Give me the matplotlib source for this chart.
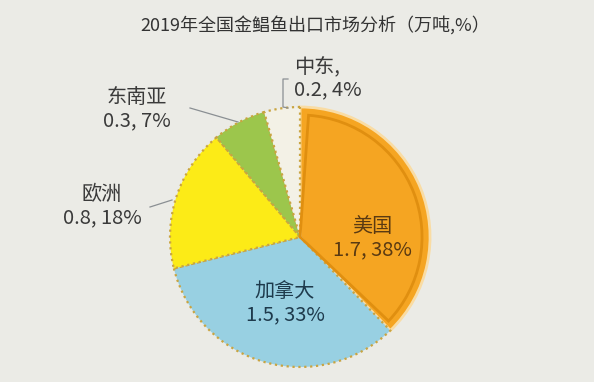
import matplotlib
matplotlib.use('Agg')
import matplotlib.pyplot as plt
from matplotlib.patches import Wedge

plt.rcParams['font.family'] = ['Noto Sans CJK SC', 'DejaVu Sans']

# 数据
markets = ['美国', '加拿大', '欧洲', '东南亚', '中东']
volumes = [1.7, 1.5, 0.8, 0.3, 0.2]
shares = [38, 33, 18, 7, 4]
colors = ['#F5A522', '#98D0E2', '#FCEB17', '#9CC64C', '#F3F1E6']
title = '2019年全国金鲳鱼出口市场分析（万吨,%）'

bg = '#EBEBE6'
fig = plt.figure(figsize=(5.94, 3.82), dpi=100, facecolor=bg)
ax = fig.add_axes([0, 0, 1, 1])
ax.set_facecolor(bg)
ax.axis('off')

cx, cy, R = 300, 145, 130
wedges, _ = ax.pie(volumes, colors=colors, startangle=90, counterclock=False,
                   center=(cx, cy), radius=R, explode=[0.045, 0, 0, 0, 0],
                   wedgeprops=dict(edgecolor='#C9A441', linewidth=1.6, linestyle=':'))
ax.set_xlim(0, 594)
ax.set_ylim(0, 382)
ax.set_aspect('equal')

# 美国扇区边框
us = wedges[0]
us.set_edgecolor('#F9DCA4')
us.set_linestyle('-')
us.set_linewidth(2)
ax.add_patch(Wedge(us.center, us.r - 8, us.theta1 + 2.5, us.theta2 - 4,
                   facecolor='none', edgecolor='#E08F10', lw=2))

ax.text(315, 382 - 25, title, ha='center', va='center', fontsize=13, color='#333333')

# 标签
def label(x, y, txt, color, ha='center'):
    ax.text(x, 382 - y, txt, color=color, ha=ha, va='center',
            fontsize=14.5, linespacing=1.1)

label(372, 238, markets[0] + '\n%.1f, %d%%' % (volumes[0], shares[0]), '#5A3A12')
label(285, 303, markets[1] + '\n%.1f, %d%%' % (volumes[1], shares[1]), '#1E3A4C')
label(102, 206, markets[2] + '\n%.1f, %d%%' % (volumes[2], shares[2]), '#3A3A3A')
label(137, 109, markets[3] + '\n%.1f, %d%%' % (volumes[3], shares[3]), '#3A3A3A')
label(294, 78, markets[4] + ',\n%.1f, %d%%' % (volumes[4], shares[4]), '#3A3A3A', ha='left')

# 引线
ax.plot([190, 238], [382 - 108, 382 - 122], color='#8A8F93', lw=0.9)
ax.plot([150, 172], [382 - 207, 382 - 200], color='#8A8F93', lw=0.9)
ax.plot([288, 283, 283, 288], [382 - 79, 382 - 79, 382 - 107, 382 - 108],
        color='#8A8F93', lw=0.9)

fig.savefig('out.png', dpi=100, facecolor=bg)
